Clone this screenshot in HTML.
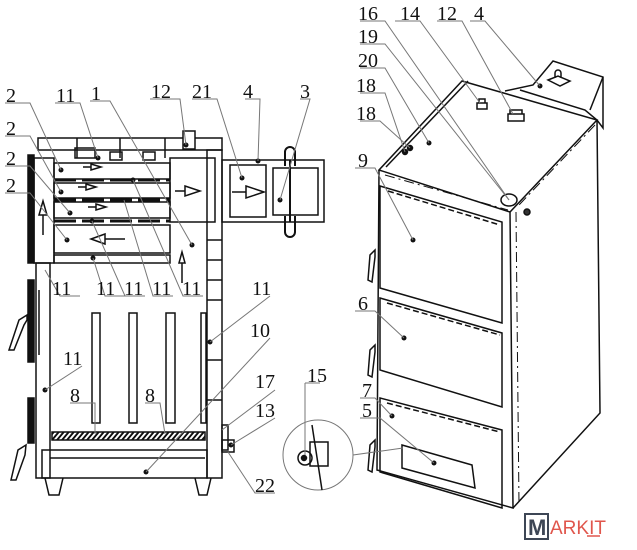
<!DOCTYPE html>
<html><head><meta charset="utf-8"><style>
html,body{margin:0;padding:0;background:#fff;}
svg{display:block}
text{font-family:"Liberation Serif",serif;font-size:20px;fill:#111}
</style></head><body>
<svg width="637" height="550" viewBox="0 0 637 550" xmlns="http://www.w3.org/2000/svg">
<g stroke="#111" stroke-width="1.5" fill="none">
<!-- LEFT BOILER -->
<rect x="38" y="138" width="184" height="12"/>
<line x1="77" y1="138" x2="77" y2="158"/><line x1="120" y1="138" x2="120" y2="158"/><line x1="165" y1="138" x2="165" y2="158"/>
<rect x="183" y="131" width="12" height="18" fill="#fff"/>
<rect x="75" y="148" width="20" height="10"/>
<rect x="110" y="152" width="12" height="8"/><rect x="143" y="152" width="12" height="8"/>
<rect x="28" y="155" width="6" height="108" fill="#111"/>
<rect x="34" y="158" width="20" height="105"/>
<rect x="54" y="163" width="116" height="16"/>
<rect x="54" y="183" width="116" height="15"/>
<rect x="54" y="202" width="116" height="16"/>
<rect x="54" y="225" width="116" height="28"/>
<rect x="54" y="255" width="116" height="8"/>
<line x1="54" y1="180" x2="170" y2="180" stroke-width="3" stroke-dasharray="22 6"/>
<line x1="54" y1="200" x2="170" y2="200" stroke-width="3" stroke-dasharray="22 6"/>
<line x1="54" y1="221" x2="170" y2="221" stroke-width="3" stroke-dasharray="22 6"/>
<rect x="170" y="158" width="45" height="64"/>
<rect x="207" y="150" width="15" height="328"/>
<line x1="207" y1="240" x2="222" y2="240"/><line x1="207" y1="260" x2="222" y2="260"/><line x1="207" y1="280" x2="222" y2="280"/><line x1="207" y1="300" x2="222" y2="300"/><line x1="207" y1="360" x2="222" y2="360"/><line x1="207" y1="400" x2="222" y2="400"/>
<!-- flue -->
<rect x="222" y="160" width="102" height="62"/>
<rect x="230" y="165" width="36" height="52"/>
<rect x="273" y="168" width="45" height="47"/>
<path d="M285 166 V152 a5 5 0 0 1 10 0 V166 M285 216 V232 a5 5 0 0 0 10 0 V216" stroke-width="2"/>
<line x1="290" y1="160" x2="290" y2="222" stroke-width="2"/>
<!-- arrows -->
<path d="M83 167 h8 M91 164 l10 3 -10 3z"/>
<path d="M78 187 h8 M86 184 l10 3 -10 3z"/>
<path d="M88 207 h8 M96 204 l10 3 -10 3z"/>
<path d="M125 239 h-20 M105 234 l-14 5 14 5z"/>
<path d="M175 191 h10 M185 186 l15 5 -15 5z"/>
<path d="M232 192 h14 M246 186 l18 6 -18 6z"/>
<path d="M43 235 v-20 M39 215 l4 -14 4 14z"/>
<path d="M182 283 v-20 M179 263 l3 -11 3 11z"/>
<!-- lower body -->
<rect x="36" y="263" width="14" height="215"/>
<rect x="28" y="280" width="6" height="82" fill="#111"/>
<rect x="28" y="398" width="6" height="45" fill="#111"/>
<line x1="39" y1="290" x2="39" y2="355"/>
<path d="M27 315 l-8 5 -10 30 h5 l10 -25 3 -5z"/>
<path d="M26 445 l-8 5 -7 30 h5 l9 -25z"/>
<rect x="92" y="313" width="8" height="110"/>
<rect x="129" y="313" width="8" height="110"/>
<rect x="166" y="313" width="9" height="110"/>
<rect x="201" y="313" width="5" height="110"/>
<rect x="52" y="432" width="153" height="8" fill="url(#h)"/>
<rect x="42" y="450" width="165" height="28"/>
<line x1="50" y1="458" x2="205" y2="458"/>
<path d="M45 478 l4 17 h10 l4 -17 M195 478 l4 17 h8 l4 -17"/>
<rect x="222" y="425" width="6" height="25"/>
<rect x="222" y="440" width="12" height="12"/>
<!-- RIGHT BOILER -->
<path d="M462 81 L379 170 L510 212 L597 120 Z"/>
<path d="M468 81 L386 167"/>
<path d="M379 170 L377 470 L513 508 L510 212"/>
<path d="M597 120 L600 413 L513 508"/>
<line x1="516" y1="212" x2="519" y2="505" stroke-dasharray="10 4 2 4" stroke-width="1"/>
<line x1="595" y1="125" x2="519" y2="205" stroke-dasharray="10 4 2 4" stroke-width="1"/>
<line x1="385" y1="175" x2="508" y2="210" stroke-dasharray="10 4 2 4" stroke-width="1"/>
<!-- flue box -->
<path d="M505 91 L533 85 L553 61 L603 77 L603 128 L597 120 L585 110 L520 90"/>
<line x1="603" y1="77" x2="590" y2="110"/>
<path d="M548 80 l10 -4 12 5 -10 5z M555 78 v-5 a3 3 0 0 1 6 0 v5"/>
<!-- pipes -->
<path d="M477 103 h10 v6 h-10 z M479 103 v-4 h6 v4"/>
<path d="M508 114 h16 v7 h-16 z M510 114 v-4 h12 v4"/>
<ellipse cx="509" cy="200" rx="8" ry="6"/>
<circle cx="527" cy="212" r="3" fill="#333"/>
<circle cx="405" cy="152" r="2.5" fill="#111"/><circle cx="410" cy="148" r="2.5" fill="#111"/>
<!-- doors -->
<path d="M380 186 L502 222 L502 323 L380 288 Z"/>
<path d="M388 191 L500 225" stroke-dasharray="6 3"/>
<path d="M380 298 L502 333 L502 407 L380 370 Z"/>
<path d="M387 303 L500 335" stroke-dasharray="6 3"/>
<path d="M380 398 L502 430 L502 508 L380 472 Z"/>
<path d="M387 403 L500 432" stroke-dasharray="6 3"/>
<path d="M402 445 L472 465 L475 488 L402 468 Z"/>
<path d="M375 250 l-5 5 -2 25 4 2 3 -25z"/>
<path d="M375 345 l-5 5 -2 25 4 2 3 -25z"/>
<path d="M375 440 l-5 5 -2 25 4 2 3 -25z"/>
<!-- detail circle 15 -->
<circle cx="318" cy="455" r="35" stroke="#777" stroke-width="1"/>
<line x1="312" y1="425" x2="322" y2="490"/>
<rect x="310" y="442" width="18" height="24"/>
<circle cx="305" cy="458" r="7"/><circle cx="304" cy="458" r="2.5" fill="#111"/>
<line x1="353" y1="455" x2="403" y2="448" stroke="#777" stroke-width="1"/>
</g>
<defs><pattern id="h" width="5" height="8" patternUnits="userSpaceOnUse" patternTransform="skewX(-40)"><rect width="5" height="8" fill="#fff"/><rect width="2.5" height="8" fill="#111"/></pattern></defs>
<!-- dots -->
<g fill="#111">
<circle cx="61" cy="170" r="2.5"/><circle cx="61" cy="192" r="2.5"/><circle cx="70" cy="213" r="2.5"/><circle cx="67" cy="240" r="2.5"/>
<circle cx="98" cy="158" r="2.5"/><circle cx="186" cy="145" r="2.5"/><circle cx="242" cy="178" r="2.5"/><circle cx="280" cy="200" r="2.5"/><circle cx="258" cy="161" r="2.5"/>
<circle cx="192" cy="245" r="2.5"/><circle cx="133" cy="180" r="2.5"/><circle cx="124" cy="200" r="2.5"/><circle cx="92" cy="221" r="2.5"/><circle cx="93" cy="258" r="2.5"/>
<circle cx="210" cy="342" r="2.5"/><circle cx="146" cy="472" r="2.5"/><circle cx="45" cy="390" r="2.5"/><circle cx="231" cy="445" r="2.5"/>
<circle cx="429" cy="143" r="2.5"/><circle cx="540" cy="86" r="2.5"/><circle cx="413" cy="240" r="2.5"/><circle cx="404" cy="338" r="2.5"/><circle cx="392" cy="416" r="2.5"/><circle cx="434" cy="463" r="2.5"/>
</g>
<!-- leader lines -->
<g stroke="#777" stroke-width="1" fill="none">
<path d="M5 103 h25 L61 170"/><path d="M5 136 h25 L61 192"/><path d="M5 166 h25 L70 213"/><path d="M5 193 h25 L67 240"/>
<path d="M55 103 h25 L98 158"/><path d="M90 101 h20 L192 245"/><path d="M150 99 h30 L186 145"/><path d="M192 99 h25 L242 178"/><path d="M245 99 h15 L258 161"/><path d="M300 99 h10 L280 200"/>
<path d="M80 296 h-20 L45 270"/><path d="M125 296 h-20 L93 258"/><path d="M145 296 h-20 L92 221"/><path d="M173 296 h-20 L124 200"/><path d="M203 296 h-20 L133 180"/>
<path d="M270 296 L210 342"/><path d="M270 338 L146 472"/><path d="M82 366 L45 390"/>
<path d="M70 403 h25 L95 434"/><path d="M145 403 h15 L165 434"/>
<path d="M275 390 L222 430"/><path d="M275 418 L231 445"/><path d="M275 493 h-20 L228 452"/>
<path d="M305 383 h15 M305 383 V455"/>
<path d="M360 21 h25 L509 200"/><path d="M395 21 h25 L480 103"/><path d="M437 21 h25 L513 114"/><path d="M470 21 h15 L540 86"/>
<path d="M360 44 h25 L509 200"/><path d="M360 68 h25 L429 143"/><path d="M360 93 h25 L405 152"/><path d="M360 121 h20 L410 148"/>
<path d="M355 168 h20 L413 240"/><path d="M355 311 h20 L404 338"/><path d="M360 398 h15 L392 416"/><path d="M360 418 h20 L434 463"/>
</g>
<!-- labels -->
<text x="6" y="102">2</text><text x="6" y="135">2</text><text x="6" y="165">2</text><text x="6" y="192">2</text>
<text x="56" y="102">11</text><text x="91" y="100">1</text><text x="151" y="98">12</text><text x="192" y="98">21</text><text x="243" y="98">4</text><text x="300" y="98">3</text>
<text x="52" y="295">11</text><text x="96" y="295">11</text><text x="124" y="295">11</text><text x="152" y="295">11</text><text x="182" y="295">11</text>
<text x="252" y="295">11</text><text x="250" y="337">10</text><text x="63" y="365">11</text>
<text x="70" y="402">8</text><text x="145" y="402">8</text>
<text x="255" y="388">17</text><text x="255" y="417">13</text><text x="255" y="492">22</text><text x="307" y="382">15</text>
<text x="358" y="20">16</text><text x="400" y="20">14</text><text x="437" y="20">12</text><text x="474" y="20">4</text>
<text x="358" y="43">19</text><text x="358" y="67">20</text><text x="356" y="92">18</text><text x="356" y="120">18</text>
<text x="358" y="167">9</text><text x="358" y="310">6</text><text x="362" y="397">7</text><text x="362" y="417">5</text>
<!-- logo -->
<rect x="525" y="514" width="23" height="25" fill="none" stroke="#3d4655" stroke-width="2"/>
<text x="528" y="535" style="font-family:'Liberation Sans',sans-serif;font-size:22px;font-weight:bold;fill:#3d4655">M</text>
<text x="550" y="534" style="font-family:'Liberation Sans',sans-serif;font-size:19px;fill:#e0564c">ARKIT</text>
<line x1="587" y1="536" x2="600" y2="536" stroke="#e0564c" stroke-width="1.5"/>
</svg>
</body></html>
